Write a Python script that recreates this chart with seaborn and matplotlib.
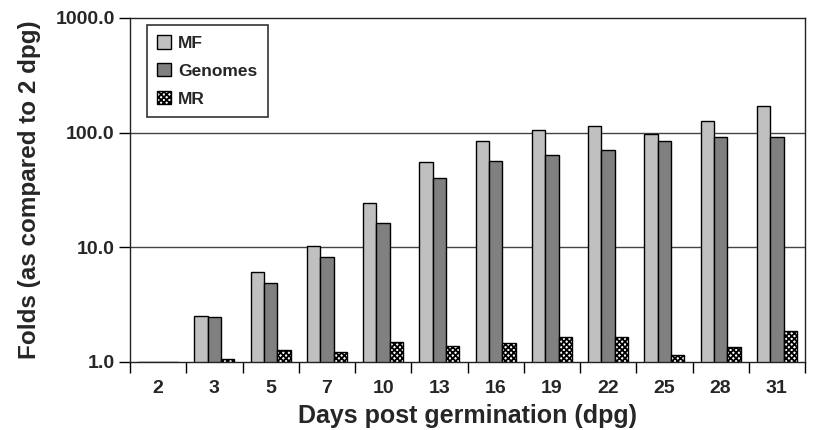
import matplotlib
matplotlib.use("Agg")
import matplotlib.pyplot as plt
import seaborn as sns
import pandas as pd
from matplotlib.ticker import FixedLocator, FuncFormatter, NullLocator

days = ["2", "3", "5", "7", "10", "13", "16", "19", "22", "25", "28", "31"]
mf = [1.0, 2.5, 6.1, 10.2, 24.6, 56, 85, 106, 115, 97, 126, 172]
genomes = [1.0, 2.45, 4.9, 8.3, 16.2, 40, 57, 64, 71, 85, 92, 92]
mr = [1.0, 1.07, 1.27, 1.22, 1.5, 1.38, 1.46, 1.64, 1.64, 1.14, 1.36, 1.85]
series = ["MF", "Genomes", "MR"]
colors = ["#c0c0c0", "#808080", "#ffffff"]

df = pd.DataFrame({
    "day": days * 3,
    "value": mf + genomes + mr,
    "series": [series[0]] * 12 + [series[1]] * 12 + [series[2]] * 12,
})

sns.set_style("white")
plt.rcParams['font.family'] = ['Liberation Sans', 'DejaVu Sans']
plt.rcParams['hatch.linewidth'] = 1.3

fig = plt.figure(figsize=(8.14, 4.30), dpi=100)
ax = fig.add_axes([130 / 814, 1 - 362 / 430, 675 / 814, 344 / 430])

sns.barplot(data=df, x="day", y="value", hue="series", order=days,
            hue_order=series, palette=colors, width=0.71, ax=ax,
            edgecolor="black", linewidth=1.0, saturation=1, errorbar=None)

HATCH = "xxxxxx"
for p in ax.containers[2]:
    p.set_hatch(HATCH)
    p.set_facecolor("#ffffff")

ax.set_yscale("log")
ax.set_ylim(1, 1000)
ax.set_xlim(-0.5, 11.5)

ax.yaxis.set_major_locator(FixedLocator([1, 10, 100, 1000]))
ax.yaxis.set_minor_locator(NullLocator())
ax.yaxis.set_major_formatter(FuncFormatter(lambda v, p: f"{v:.1f}"))

for yv in [10, 100]:
    ax.axhline(yv, color="#444444", linewidth=1.0, zorder=0)

ax.tick_params(axis="y", which="major", direction="out", length=8, width=1,
               color="black", left=True, labelsize=14, pad=3)
ax.tick_params(axis="x", which="major", length=0, labelsize=14, pad=13)
ax.xaxis.set_minor_locator(FixedLocator([i + 0.5 for i in range(-1, 12)]))
ax.tick_params(axis="x", which="minor", direction="out", length=8, width=1,
               color="black", bottom=True)
for lab in ax.get_xticklabels() + ax.get_yticklabels():
    lab.set_fontweight("bold")

for s in ax.spines.values():
    s.set_visible(True)
    s.set_color("#222222")
    s.set_linewidth(1.0)

ax.set_xlabel("Days post germination (dpg)", fontsize=18, fontweight="bold", labelpad=5)
ax.set_ylabel("Folds (as compared to 2 dpg)", fontsize=17.5, fontweight="bold", labelpad=10)

leg = ax.legend(loc="upper left", bbox_to_anchor=(0.025, 0.98), frameon=True,
                fancybox=False, framealpha=1, edgecolor="#333333",
                prop={"weight": "bold", "size": 12.5}, handlelength=0.8,
                handleheight=0.8, labelspacing=0.7, handletextpad=0.4,
                borderpad=0.6, borderaxespad=0, title=None)
leg.get_frame().set_linewidth(1.2)
handles = leg.legend_handles
handles[2].set_hatch(HATCH)
handles[2].set_facecolor("#ffffff")
for h in handles:
    h.set_edgecolor("black")
    h.set_linewidth(1.0)

fig.savefig("out.png", dpi=100)
